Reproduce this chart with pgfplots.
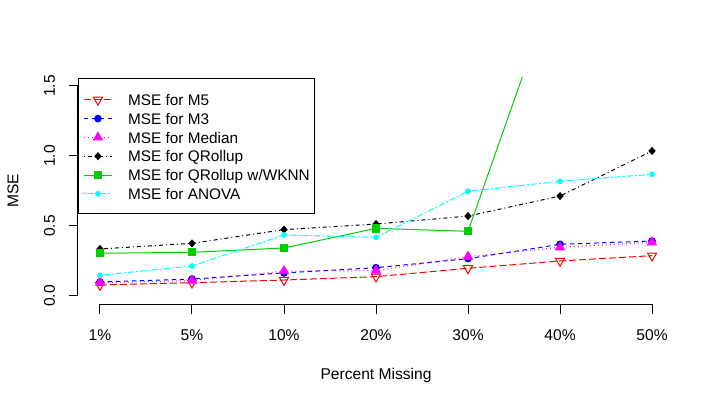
\documentclass[border=0pt]{standalone}
\usepackage{fontspec}
\setmainfont{Liberation Sans}
\usepackage{pgfplots}
\pgfplotsset{compat=1.18}
\definecolor{rgreen}{RGB}{0,205,0}
\definecolor{rred}{RGB}{255,0,0}
\definecolor{rblue}{RGB}{0,0,255}
\definecolor{rmagenta}{RGB}{255,0,255}
\definecolor{rcyan}{RGB}{0,255,255}
\begin{document}
\begin{tikzpicture}[font=\fontsize{11.7}{14}\selectfont]
\useasboundingbox (0,0) rectangle (536.25pt,302.25pt);
\begin{axis}[
  at={(58.43pt,73.95pt)}, anchor=south west,
  scale only axis, width=447.15pt, height=170.1pt,
  xmin=-0.24, xmax=6.24, ymin=-0.06, ymax=1.56,
  axis x line*=bottom, axis y line*=left,
  axis line style={draw=none,-},
  clip mode=individual,
  xtick={0,...,6}, xticklabels={1\%,5\%,10\%,20\%,30\%,40\%,50\%},
  ytick={0,0.5,1,1.5}, yticklabels={0.0,0.5,1.0,1.5},
  tick align=outside, major tick length=7pt,
  tick style={black, line width=0.75pt},
  minor tick num=0,
  xticklabel style={anchor=base, inner sep=0pt, yshift=-20pt},
  yticklabel style={xshift=-10.2pt, rotate=90, anchor=base, inner sep=0pt},
  xlabel={Percent Missing}, ylabel={MSE},
  every axis x label/.style={at={(axis description cs:0.5,0)}, anchor=base, yshift=-56pt},
  every axis y label/.style={at={(axis description cs:0,0.5)}, xshift=-44.7pt, rotate=90, anchor=base},
  every axis plot/.append style={line width=0.75pt},
  legend image code/.code={\draw[mark repeat=2,mark phase=2,#1] plot coordinates {(0pt,4.2pt) (10.5pt,4.2pt) (21pt,4.2pt)};},
  legend cell align=left,
  legend style={at={(axis description cs:0,1)}, anchor=north west, xshift=0.3pt, yshift=-0.5pt,
    draw=black, line width=0.75pt, inner xsep=3.5pt, inner ysep=8.25pt,
    /tikz/column sep=11.8pt, /tikz/row sep=0pt,
    font=\fontsize{11.5}{14}\selectfont,
    nodes={anchor=base west, inner sep=0pt, text height=11.75pt, text depth=2.35pt}},
]
\draw[line width=0.75pt] (axis cs:0,-0.06) -- (axis cs:6,-0.06);
\draw[line width=0.75pt] (axis cs:-0.24,0) -- (axis cs:-0.24,1.5);

\addplot[color=rred, dash pattern=on 5.25pt off 2.25pt, mark=triangle, mark size=4pt, mark options={solid, rotate=180}]
  coordinates {(0,0.079) (1,0.095) (2,0.114) (3,0.138) (4,0.198) (5,0.250) (6,0.288)};
\addlegendentry{MSE for M5}
\addplot[color=rblue, dash pattern=on 3.2pt off 2.8pt, mark=*, mark size=2.5pt, mark options={solid}]
  coordinates {(0,0.100) (1,0.121) (2,0.165) (3,0.202) (4,0.267) (5,0.369) (6,0.393)};
\addlegendentry{MSE for M3}
\addplot[color=rmagenta, dash pattern=on 0.75pt off 2.25pt, mark=triangle*, mark size=3.8pt, mark options={solid}]
  coordinates {(0,0.095) (1,0.110) (2,0.178) (3,0.181) (4,0.281) (5,0.348) (6,0.383)};
\addlegendentry{MSE for Median}
\addplot[color=black, dash pattern=on 0.75pt off 2.25pt on 3pt off 2.25pt, mark=diamond*, mark size=2.5pt, mark options={solid, xscale=1.2}]
  coordinates {(0,0.336) (1,0.376) (2,0.474) (3,0.514) (4,0.571) (5,0.714) (6,1.036)};
\addlegendentry{MSE for QRollup}
\addplot[color=rgreen, solid, mark=square*, mark size=2.75pt, mark options={solid}]
  coordinates {(0,0.305) (1,0.312) (2,0.343) (3,0.483) (4,0.462) (5,2.33) (6,3.0)};
\addlegendentry{MSE for QRollup w/WKNN}
\addplot[color=rcyan, dash pattern=on 1.5pt off 1.5pt on 4.5pt off 1.5pt, mark=*, mark size=1.75pt, mark options={solid}]
  coordinates {(0,0.148) (1,0.214) (2,0.436) (3,0.419) (4,0.748) (5,0.819) (6,0.869)};
\addlegendentry{MSE for ANOVA}
\end{axis}
\end{tikzpicture}
\end{document}
